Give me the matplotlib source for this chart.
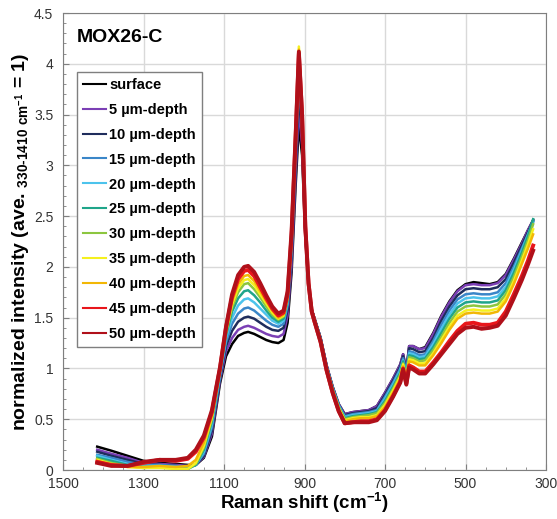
import matplotlib
matplotlib.use("Agg")
import matplotlib.pyplot as plt
from matplotlib.ticker import MultipleLocator, FixedLocator, FuncFormatter

plt.rcParams['font.family'] = ['Liberation Sans', 'DejaVu Sans']
plt.rcParams['mathtext.fontset'] = 'custom'
plt.rcParams['mathtext.rm'] = 'Liberation Sans:bold'
plt.rcParams['mathtext.bf'] = 'Liberation Sans:bold'
plt.rcParams['mathtext.default'] = 'bf'

# wavenumbers (cm-1)
wn = [1415, 1380, 1340, 1300, 1260, 1220, 1190, 1170, 1150, 1130,
      1110, 1095, 1080, 1065, 1050, 1040, 1025, 1010, 995, 980,
      965, 952, 942, 932, 922, 914, 906, 898, 890, 882,
      875, 860, 845, 830, 815, 800, 780, 760, 740, 720,
      700, 680, 662, 655, 647, 640, 630, 615, 600, 580,
      560, 540, 520, 500, 480, 460, 440, 420, 400, 380,
      360, 345, 332]

surface = [.23, .19, .14, .09, .07, .06, .05, .05, .12, .33,
           .85, 1.12, 1.24, 1.32, 1.35, 1.36, 1.34, 1.31, 1.28, 1.26,
           1.25, 1.28, 1.45, 1.95, 2.80, 3.40, 3.10, 2.30, 1.82, 1.58,
           1.49, 1.30, 1.03, .82, .65, .55, .57, .58, .59, .63,
           .76, .90, 1.04, 1.14, .98, 1.22, 1.22, 1.19, 1.21, 1.35,
           1.52, 1.66, 1.77, 1.83, 1.85, 1.84, 1.83, 1.85, 1.93, 2.08,
           2.24, 2.36, 2.46]
d05 = [.20, .16, .12, .07, .06, .05, .04, .05, .13, .36,
       .88, 1.17, 1.30, 1.38, 1.41, 1.42, 1.40, 1.37, 1.34, 1.32,
       1.31, 1.34, 1.52, 2.02, 2.90, 3.56, 3.20, 2.32, 1.82, 1.58,
       1.49, 1.30, 1.03, .82, .65, .55, .57, .58, .59, .63,
       .76, .90, 1.04, 1.14, .98, 1.22, 1.22, 1.19, 1.20, 1.34,
       1.51, 1.65, 1.76, 1.82, 1.83, 1.82, 1.82, 1.84, 1.92, 2.07,
       2.23, 2.36, 2.46]
d10 = [.18, .14, .10, .06, .05, .04, .03, .05, .14, .39,
       .90, 1.22, 1.37, 1.46, 1.50, 1.51, 1.49, 1.45, 1.41, 1.38,
       1.37, 1.40, 1.58, 2.10, 3.00, 3.70, 3.30, 2.34, 1.83, 1.58,
       1.49, 1.30, 1.02, .81, .64, .54, .56, .57, .58, .61,
       .74, .88, 1.02, 1.12, .96, 1.20, 1.19, 1.16, 1.17, 1.30,
       1.47, 1.61, 1.72, 1.78, 1.79, 1.78, 1.78, 1.80, 1.88, 2.04,
       2.21, 2.34, 2.45]
d15 = [.15, .12, .08, .05, .05, .04, .03, .05, .16, .42,
       .92, 1.26, 1.44, 1.54, 1.59, 1.60, 1.57, 1.52, 1.47, 1.43,
       1.41, 1.44, 1.62, 2.16, 3.08, 3.85, 3.38, 2.35, 1.83, 1.58,
       1.48, 1.29, 1.02, .81, .64, .53, .55, .56, .57, .59,
       .72, .86, 1.00, 1.10, .95, 1.17, 1.16, 1.13, 1.14, 1.27,
       1.43, 1.57, 1.68, 1.73, 1.74, 1.73, 1.73, 1.75, 1.84, 2.00,
       2.18, 2.32, 2.44]
d20 = [.14, .10, .06, .04, .04, .03, .02, .05, .18, .45,
       .94, 1.30, 1.50, 1.62, 1.68, 1.69, 1.65, 1.59, 1.53, 1.47,
       1.44, 1.47, 1.65, 2.20, 3.14, 3.92, 3.42, 2.36, 1.83, 1.57,
       1.48, 1.29, 1.01, .80, .63, .52, .54, .55, .56, .58,
       .70, .84, .98, 1.08, .94, 1.15, 1.14, 1.11, 1.12, 1.24,
       1.39, 1.53, 1.64, 1.69, 1.70, 1.69, 1.69, 1.71, 1.80, 1.97,
       2.16, 2.31, 2.45]
d25 = [.12, .09, .05, .03, .03, .02, .01, .05, .20, .48,
       .96, 1.33, 1.56, 1.69, 1.76, 1.77, 1.72, 1.65, 1.57, 1.50,
       1.46, 1.49, 1.67, 2.23, 3.18, 3.97, 3.45, 2.37, 1.83, 1.57,
       1.48, 1.28, 1.01, .80, .62, .51, .53, .54, .55, .57,
       .68, .82, .96, 1.07, .93, 1.13, 1.12, 1.09, 1.10, 1.21,
       1.35, 1.49, 1.60, 1.65, 1.66, 1.65, 1.65, 1.67, 1.77, 1.94,
       2.14, 2.30, 2.47]
d30 = [.11, .07, .04, .02, .03, .02, .01, .06, .22, .50,
       .97, 1.35, 1.60, 1.75, 1.83, 1.84, 1.78, 1.70, 1.61, 1.53,
       1.48, 1.51, 1.69, 2.26, 3.22, 4.02, 3.48, 2.38, 1.84, 1.57,
       1.48, 1.28, 1.00, .79, .62, .50, .52, .53, .54, .56,
       .66, .80, .94, 1.05, .91, 1.11, 1.10, 1.07, 1.08, 1.18,
       1.31, 1.45, 1.56, 1.61, 1.62, 1.61, 1.61, 1.63, 1.73, 1.90,
       2.10, 2.26, 2.42]
d35 = [.10, .06, .03, .02, .02, .01, .01, .07, .24, .52,
       .98, 1.37, 1.63, 1.79, 1.87, 1.88, 1.82, 1.73, 1.64, 1.55,
       1.49, 1.52, 1.70, 2.28, 3.26, 4.17, 3.52, 2.39, 1.84, 1.57,
       1.47, 1.27, 1.00, .78, .61, .49, .51, .52, .52, .54,
       .64, .78, .92, 1.04, .90, 1.09, 1.08, 1.05, 1.05, 1.15,
       1.28, 1.41, 1.52, 1.57, 1.58, 1.57, 1.57, 1.59, 1.69, 1.86,
       2.06, 2.22, 2.37]
d40 = [.09, .05, .03, .03, .04, .03, .04, .10, .27, .54,
       .99, 1.38, 1.66, 1.83, 1.91, 1.92, 1.86, 1.76, 1.66, 1.57,
       1.50, 1.53, 1.71, 2.30, 3.28, 4.14, 3.52, 2.40, 1.84, 1.57,
       1.47, 1.27, .99, .78, .60, .48, .50, .51, .51, .53,
       .62, .76, .90, 1.02, .88, 1.07, 1.06, 1.03, 1.03, 1.13,
       1.25, 1.38, 1.49, 1.54, 1.55, 1.54, 1.54, 1.56, 1.66, 1.83,
       2.03, 2.18, 2.32]
d45 = [.08, .05, .04, .07, .10, .09, .11, .18, .32, .57,
       1.00, 1.40, 1.70, 1.88, 1.96, 1.97, 1.91, 1.80, 1.69, 1.59,
       1.52, 1.55, 1.73, 2.32, 3.28, 4.10, 3.50, 2.40, 1.84, 1.56,
       1.46, 1.26, .98, .76, .58, .46, .47, .48, .48, .50,
       .59, .73, .87, 1.00, .85, 1.03, 1.01, .97, .97, 1.06,
       1.16, 1.27, 1.37, 1.44, 1.45, 1.43, 1.43, 1.45, 1.56, 1.73,
       1.91, 2.06, 2.21]
d50 = [.07, .04, .04, .08, .10, .10, .12, .20, .34, .59,
       1.01, 1.41, 1.73, 1.92, 2.00, 2.01, 1.95, 1.84, 1.72, 1.61,
       1.54, 1.57, 1.76, 2.36, 3.30, 4.12, 3.50, 2.40, 1.84, 1.56,
       1.46, 1.26, .98, .76, .58, .46, .47, .47, .47, .49,
       .58, .72, .86, .99, .84, 1.01, .99, .95, .95, 1.04,
       1.14, 1.24, 1.34, 1.40, 1.41, 1.39, 1.40, 1.42, 1.52, 1.69,
       1.87, 2.02, 2.16]

series = [surface, d05, d10, d15, d20, d25, d30, d35, d40, d45, d50]
labels = ['surface', '5 µm-depth', '10 µm-depth', '15 µm-depth', '20 µm-depth',
          '25 µm-depth', '30 µm-depth', '35 µm-depth', '40 µm-depth',
          '45 µm-depth', '50 µm-depth']
colors = ['#000000', '#7b3fb5', '#1f2d5c', '#3a86c8', '#4cc3ec', '#1fa58a',
          '#8cc63f', '#f5f01e', '#f2b705', '#e8161b', '#b0101a']
xticks = [1500, 1300, 1100, 900, 700, 500, 300]

fig = plt.figure(figsize=(5.57, 5.19), dpi=100)
ax = fig.add_axes([63/557, 49/519, 483/557, 457/519])

for s, lab, c in zip(series, labels, colors):
    lw = 2.8 if c in ('#e8161b', '#b0101a') else 1.8
    ax.plot(wn, s, color=c, lw=lw, label=lab)

ax.set_xlim(1500, 300)
ax.set_ylim(0, 4.5)
ax.xaxis.set_major_locator(FixedLocator(xticks))
ax.xaxis.set_minor_locator(MultipleLocator(50))
ax.yaxis.set_major_locator(MultipleLocator(0.5))
ax.yaxis.set_minor_locator(MultipleLocator(0.1))
ax.yaxis.set_major_formatter(FuncFormatter(lambda v, p: '{:g}'.format(v)))
ax.grid(True, which='major', color='#d9d9d9', lw=1)
ax.set_axisbelow(True)
ax.tick_params(which='both', direction='in', colors='#7f7f7f',
               labelcolor='#333333', labelsize=10)
ax.tick_params(which='major', length=4)
ax.tick_params(which='minor', length=2.5)
ax.tick_params(axis='y', which='major', pad=7)
ax.tick_params(axis='x', which='major', pad=5)
for sp in ax.spines.values():
    sp.set_color('#7f7f7f')

ax.set_xlabel('Raman shift (cm$^{-1}$)', fontsize=13.5, fontweight='bold', labelpad=0)
ax.set_ylabel('normalized intensity (ave. $_{330\\text{-}1410\\ cm^{-1}}$ = 1)',
              fontsize=14, fontweight='bold', labelpad=2)

ax.text(0.029, 0.947, 'MOX26-C', transform=ax.transAxes, fontsize=14,
        fontweight='bold', ha='left', va='center')

leg = ax.legend(loc='upper left', bbox_to_anchor=(0.029, 0.871), borderaxespad=0,
                fancybox=False, edgecolor='#7f7f7f', framealpha=1,
                handlelength=1.6, handletextpad=0.2, labelspacing=0.75,
                prop={'weight': 'bold', 'size': 10.5})
leg.get_frame().set_linewidth(1)
for h in leg.get_lines():
    h.set_linewidth(1.5)

fig.savefig('out.png', dpi=100)
